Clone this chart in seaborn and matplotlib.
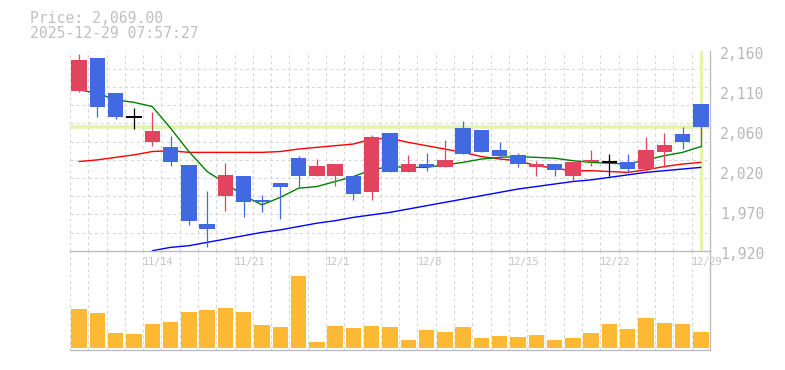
import numpy as np
import seaborn as sns
import matplotlib
matplotlib.use("Agg")
import matplotlib.pyplot as plt
import matplotlib.transforms as mtransforms

# daily candles, 11/10 .. 12/29 (35 sessions)
opens  = [2112, 2151, 2109, 2081, 2050, 2044, 2023, 1952, 1986, 2010, 1981, 2001,
          2031, 2010, 2010, 2010, 1991, 2061, 2015, 2024, 2021, 2067, 2065, 2041,
          2035, 2021, 2024, 2010, 2026, 2026, 2026, 2018, 2038, 2060, 2096]
highs  = [2156, 2151, 2109, 2091, 2086, 2058, 2023, 1992, 2025, 2010, 1987, 2001,
          2034, 2030, 2024, 2010, 2059, 2061, 2035, 2037, 2053, 2076, 2065, 2050,
          2037, 2028, 2024, 2026, 2041, 2036, 2036, 2057, 2061, 2068, 2096]
lows   = [2111, 2081, 2078, 2066, 2046, 2022, 1951, 1924, 1968, 1961, 1967, 1958,
          1996, 2010, 1998, 1981, 1981, 2015, 2015, 2016, 2021, 2036, 2038, 2030,
          2020, 2010, 2010, 2004, 2022, 2010, 2013, 2016, 2020, 2042, 2045]
closes = [2149, 2092, 2081, 2081, 2064, 2027, 1956, 1946, 2011, 1979, 1978, 1996,
          2010, 2022, 2024, 1988, 2056, 2015, 2024, 2021, 2029, 2036, 2039, 2034,
          2024, 2024, 2017, 2026, 2029, 2026, 2018, 2041, 2047, 2051, 2069]

# moving averages as drawn
ma_short = [2113, 2109, 2101, 2098, 2093, 2067, 2039, 2015, 2001, 1986, 1975, 1984,
            1995, 1997, 2003, 2009, 2017, 2021, 2020, 2020, 2023, 2026, 2030, 2032,
            2033, 2032, 2031, 2028, 2026, 2025, 2024, 2029, 2034, 2038, 2045]
ma_mid   = [2027, 2029, 2032, 2035, 2039, 2040, 2038, 2038, 2038, 2038, 2038, 2039,
            2042, 2044, 2046, 2048, 2054, 2055, 2050, 2046, 2042, 2038, 2033, 2030,
            2028, 2022, 2019, 2016, 2016, 2015, 2014, 2017, 2021, 2024, 2026]
ma_long  = [np.nan, np.nan, np.nan, np.nan, 1920, 1924, 1926, 1930, 1934, 1938, 1942,
            1945, 1949, 1953, 1956, 1960, 1963, 1966, 1970, 1974, 1978, 1982, 1986,
            1990, 1994, 1997, 2000, 2003, 2005, 2008, 2011, 2014, 2016, 2018, 2020]

volumes = [11600, 10500, 4500, 4200, 7200, 7800, 10800, 11400, 12000, 10800, 6900, 6300,
           21300, 1800, 6600, 6000, 6600, 6300, 2400, 5400, 4800, 6300, 3000, 3600,
           3300, 3900, 2400, 3000, 4500, 7200, 5700, 9000, 7500, 7200, 4800]

date_labels = ["11/14", "11/21", "12/1", "12/8", "12/15", "12/22", "12/29"]
date_label_idx = [4, 9, 14, 19, 24, 29, 34]
price_ticks = [1920, 1968, 2016, 2064, 2112, 2160]
price_tick_labels = ["1,920", "1,970", "2,020", "2,060", "2,110", "2,160"]
cursor_price = 2069
header = ["Price: 2,069.00", "2025-12-29 07:57:27"]

UP, DOWN = "#e2445f", "#4169e1"
GRID = "#d6d6d6"
FRAME = "#bdbdbd"
TXT = "#b8b8b8"

sns.set_style("white")
plt.rcParams["font.family"] = ["DejaVu Sans Mono"]

fig = plt.figure(figsize=(7.85, 3.7), dpi=100)
axv = fig.add_axes([70 / 785, 20 / 370, 640 / 785, 99.3 / 370])
axp = fig.add_axes([70 / 785, 119.3 / 370, 640 / 785, 200 / 370])
axp.set_facecolor("none")

n = len(closes)
idx = np.arange(n)
bounds = np.arange(-0.5, n, 1.0)

# ---- price panel
axp.axhline(cursor_price, color="#e3f4ae", lw=2.6, zorder=1.2)
axp.axvline(n - 1, color="#e3f4ae", lw=2.4, zorder=1.2)

sns.lineplot(x=idx, y=ma_long, color="#0000ff", lw=1.0, ax=axp, zorder=2)
sns.lineplot(x=idx, y=ma_mid, color="#ff0000", lw=1.0, ax=axp, zorder=2)
sns.lineplot(x=idx, y=ma_short, color="#008000", lw=1.0, ax=axp, zorder=2)

for i in range(n):
    o, h, l, c = opens[i], highs[i], lows[i], closes[i]
    if c == o:
        axp.vlines(i, l, h, color="black", lw=0.9, zorder=3)
        axp.hlines(c, i - 0.42, i + 0.42, color="black", lw=1.4, zorder=3)
        continue
    col = UP if c > o else DOWN
    axp.vlines(i, l, h, color=col, lw=0.9, zorder=3)
    axp.bar(i, abs(c - o), bottom=min(o, c), width=0.84, color=col, lw=0, zorder=3)

axp.set_xlim(-0.5, n - 0.5)
axp.set_ylim(1920, 2160)
xt_labels = [""] * len(bounds)
for lab, j in zip(date_labels, date_label_idx):
    xt_labels[j] = lab
axp.set_xticks(bounds)
axp.set_xticklabels(xt_labels, ha="left")
axp.tick_params(axis="x", length=0, pad=4.2, labelsize=7.3, labelcolor="#c2c2c2")
axp.yaxis.tick_right()
axp.set_yticks(price_ticks)
axp.set_yticklabels(price_tick_labels)
axp.set_yticks(np.linspace(1920, 2160, 12), minor=True)
axp.tick_params(axis="y", which="both", length=0, pad=7.2, labelsize=10.6, labelcolor=TXT)
shift = mtransforms.ScaledTranslation(0, -2.6 / 100, fig.dpi_scale_trans)
for lab in axp.get_yticklabels():
    lab.set_transform(lab.get_transform() + shift)
axp.grid(False)
axp.grid(True, axis="x", which="major", color=GRID, lw=0.75, ls=(0, (2.9, 2.9)))
axp.grid(True, axis="y", which="minor", color=GRID, lw=0.75, ls=(0, (2.9, 2.9)))
axp.set_axisbelow(True)
axp.set(xlabel="", ylabel="")
for s in ["left", "top"]:
    axp.spines[s].set_visible(False)
for s in ["bottom", "right"]:
    axp.spines[s].set_color(FRAME)
    axp.spines[s].set_linewidth(1.0)

# ---- volume panel
sns.barplot(x=idx, y=volumes, color="#fdb933", saturation=1, width=0.84,
            linewidth=0, ax=axv, zorder=3)
axv.set_xlim(-0.5, n - 0.5)
axv.set_ylim(-450, 28850)
axv.set_xticks(bounds)
axv.set_xticklabels([])
axv.set_yticks([])
axv.tick_params(axis="x", length=0)
axv.grid(False)
axv.grid(True, axis="x", color=GRID, lw=0.75, ls=(0, (2.9, 2.9)))
axv.set_axisbelow(True)
axv.set(xlabel="", ylabel="")
for s in ["left", "top"]:
    axv.spines[s].set_visible(False)
for s in ["bottom", "right"]:
    axv.spines[s].set_color(FRAME)
    axv.spines[s].set_linewidth(1.0)

# header text
fig.text(30 / 785, 1 - 18.3 / 370, header[0], fontsize=10.6, color="#c0c0c0", va="center")
fig.text(30 / 785, 1 - 33.3 / 370, header[1], fontsize=10.6, color="#c0c0c0", va="center")

fig.savefig("out.png", dpi=100)
